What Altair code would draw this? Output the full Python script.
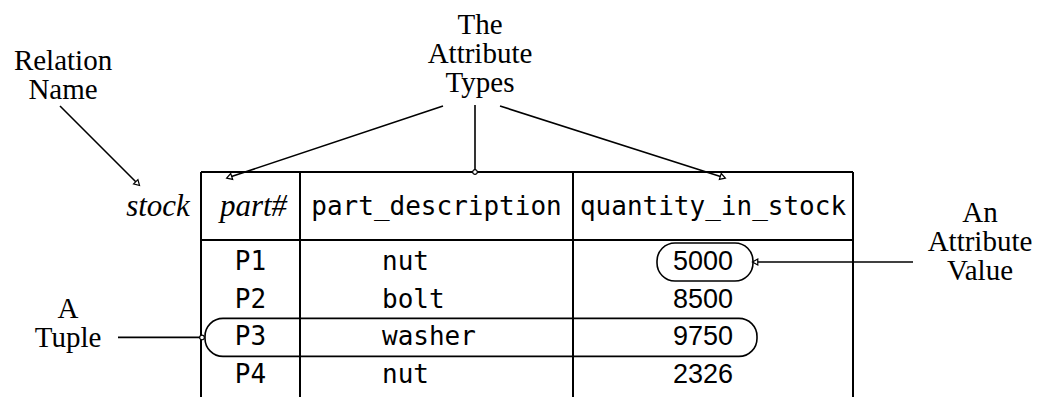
import math
import altair as alt
import pandas as pd

# ---------------- data ----------------
relation_name = "stock"
headers = ["part#", "part_description", "quantity_in_stock"]
parts = ["P1", "P2", "P3", "P4"]
descriptions = ["nut", "bolt", "washer", "nut"]
quantities = [5000, 8500, 9750, 2326]
callout_texts = ["Relation\nName", "The\nAttribute\nTypes", "An\nAttribute\nValue", "A\nTuple"]

# ---------------- layout (page pixels) ----------------
PAGE_W, PAGE_H, MARGIN = 1058, 397, 8
CHART_W, CHART_H = PAGE_W - 2 * MARGIN, PAGE_H - MARGIN
col_edges = [201, 300, 573, 853]
table_top, header_bottom, table_bottom = 172, 240, 397
header_mid = 207
row_first, row_step = 262, 37.7
row_y = [row_first + i * row_step for i in range(len(parts))]
desc_left = 382
qty_right = 733

X = alt.Scale(domain=[MARGIN, MARGIN + CHART_W])
Y = alt.Scale(domain=[MARGIN, MARGIN + CHART_H], reverse=True)


def rules(df, width):
    return alt.Chart(df).mark_rule(color="black", strokeWidth=width).encode(
        x=alt.X("x:Q", scale=X, axis=None),
        y=alt.Y("y:Q", scale=Y, axis=None),
        x2="x2:Q",
        y2="y2:Q",
    )


# table grid
grid = [dict(x=col_edges[0], y=table_top, x2=col_edges[-1], y2=table_top),
        dict(x=col_edges[0], y=header_bottom, x2=col_edges[-1], y2=header_bottom)]
for cx in col_edges:
    grid.append(dict(x=cx, y=table_top, x2=cx, y2=table_bottom))
grid_layer = rules(pd.DataFrame(grid), 2)

# callout pointer lines: (start) -> (tip)
tuple_row = row_y[2]
value_row = row_y[0]
pointers = pd.DataFrame([
    dict(x=60, y=106, x2=137, y2=183, head="tri"),
    dict(x=443, y=106, x2=230, y2=177, head="tri"),
    dict(x=475, y=105, x2=475, y2=table_top, head="dot"),
    dict(x=500, y=106, x2=722, y2=177, head="tri"),
    dict(x=913, y=value_row, x2=756, y2=value_row, head="tri"),
    dict(x=118, y=tuple_row, x2=202, y2=tuple_row, head="dot"),
])
pointer_layer = rules(pointers, 1.6)

heads = pointers.copy()
heads["angle"] = [
    math.degrees(math.atan2(r.x2 - r.x, -(r.y2 - r.y))) % 360 for r in heads.itertuples()
]
tri = heads[heads["head"] == "tri"]
dots = heads[heads["head"] == "dot"]

tri_layer = alt.Chart(tri).mark_point(
    shape="triangle", filled=True, color="white", stroke="black", strokeWidth=1.2, size=38, opacity=1
).encode(
    x=alt.X("x2:Q", scale=X, axis=None),
    y=alt.Y("y2:Q", scale=Y, axis=None),
    angle=alt.Angle("angle:Q", scale=None),
)
dot_layer = alt.Chart(dots).mark_point(
    shape="circle", filled=True, color="white", stroke="black", strokeWidth=1.2, size=22, opacity=1
).encode(
    x=alt.X("x2:Q", scale=X, axis=None),
    y=alt.Y("y2:Q", scale=Y, axis=None),
)

# rounded highlight boxes (tuple and attribute value)
box_h = 19
boxes = pd.DataFrame([
    dict(x=205, x2=757, y=tuple_row - box_h, y2=tuple_row + box_h),
    dict(x=657, x2=753, y=value_row - box_h, y2=value_row + box_h),
])
box_layer = alt.Chart(boxes).mark_rect(
    filled=False, color="black", strokeWidth=1.6, cornerRadius=18
).encode(
    x=alt.X("x:Q", scale=X, axis=None),
    y=alt.Y("y:Q", scale=Y, axis=None),
    x2="x2:Q",
    y2="y2:Q",
)


def text_layer(df, **props):
    return alt.Chart(df).mark_text(color="black", **props).encode(
        x=alt.X("x:Q", scale=X, axis=None),
        y=alt.Y("y:Q", scale=Y, axis=None),
        text="t:N",
    )


col_centers = [(col_edges[i] + col_edges[i + 1]) / 2 for i in range(3)]

italic_df = pd.DataFrame([
    dict(x=col_edges[0] - 43, y=header_mid, t=relation_name),
    dict(x=col_centers[0] + 3, y=header_mid, t=headers[0]),
])
italic_layer = text_layer(italic_df, font="Liberation Serif", fontStyle="italic", fontSize=31,
                          align="center", baseline="middle")

MONO = dict(font="DejaVu Sans Mono", fontSize=26, baseline="middle")

mono_head_df = pd.DataFrame([
    dict(x=col_centers[1], y=header_mid, t=headers[1]),
    dict(x=col_centers[2], y=header_mid, t=headers[2]),
])
mono_head_layer = text_layer(mono_head_df, align="center", **MONO)

parts_df = pd.DataFrame(dict(x=[col_centers[0]] * len(parts), y=row_y, t=parts))
parts_layer = text_layer(parts_df, align="center", **MONO)

desc_df = pd.DataFrame(dict(x=[desc_left] * len(descriptions), y=row_y, t=descriptions))
desc_layer = text_layer(desc_df, align="left", **MONO)

qty_df = pd.DataFrame(dict(x=[qty_right] * len(quantities), y=row_y, t=[str(q) for q in quantities]))
qty_layer = text_layer(qty_df, font="Liberation Sans", fontSize=27,
                       align="right", baseline="middle")

callouts = pd.DataFrame([
    dict(x=63, y=70, t=callout_texts[0]),
    dict(x=480, y=34, t=callout_texts[1]),
    dict(x=980, y=222, t=callout_texts[2]),
    dict(x=68, y=318, t=callout_texts[3]),
])
callout_layer = text_layer(callouts, font="Liberation Serif", fontSize=29,
                           align="center", baseline="alphabetic", lineBreak="\n", lineHeight=29)

chart = alt.layer(
    grid_layer, box_layer, pointer_layer, tri_layer, dot_layer,
    italic_layer, mono_head_layer, parts_layer, desc_layer, qty_layer, callout_layer,
).properties(
    width=CHART_W,
    height=CHART_H,
    padding=0,
    autosize=alt.AutoSizeParams(type="none"),
    background="white",
).configure_view(stroke=None)

chart.save("out.html", embed_options={"renderer": "svg", "actions": False})
